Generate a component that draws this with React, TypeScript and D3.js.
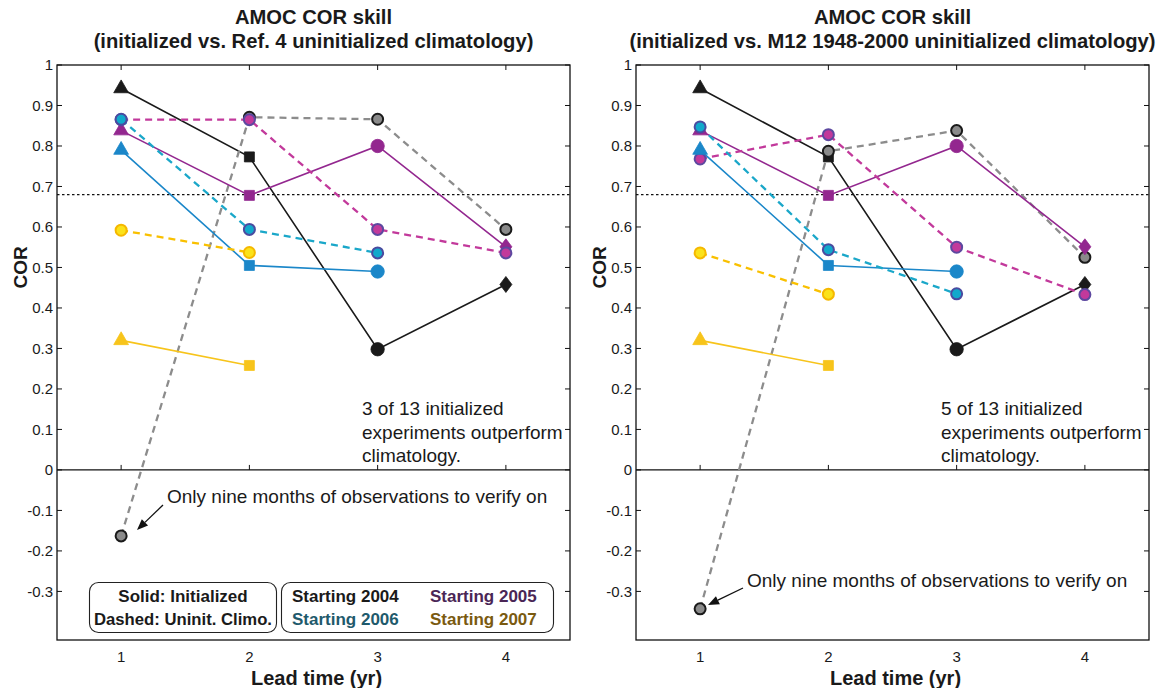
import React from 'react';
import * as d3 from 'd3';

// ---------- data ----------
const leads = [1, 2, 3, 4];
const startYears = ['2004', '2005', '2006', '2007'];
// initialized COR by start year (rows) and lead time (cols)
const initialized: (number | null)[][] = [
  [0.942, 0.773, 0.298, 0.458],
  [0.838, 0.678, 0.8, 0.551],
  [0.79, 0.505, 0.49, null],
  [0.32, 0.258, null, null],
];
// uninitialized climatology, Ref. 4
const uninitRef4: (number | null)[][] = [
  [-0.163, 0.871, 0.866, 0.594],
  [0.865, 0.865, 0.594, 0.536],
  [0.866, 0.594, 0.536, null],
  [0.592, 0.537, null, null],
];
// uninitialized climatology, M12 1948-2000
const uninitM12: (number | null)[][] = [
  [-0.343, 0.787, 0.838, 0.525],
  [0.768, 0.828, 0.55, 0.433],
  [0.847, 0.544, 0.435, null],
  [0.536, 0.434, null, null],
];
const yTickValues = [-0.3, -0.2, -0.1, 0, 0.1, 0.2, 0.3, 0.4, 0.5, 0.6, 0.7, 0.8, 0.9, 1];
const yTickLabels = ['-0.3', '-0.2', '-0.1', '0', '0.1', '0.2', '0.3', '0.4', '0.5', '0.6', '0.7', '0.8', '0.9', '1'];
const thresholdCOR = 0.68;

const panelTitles = [
  ['AMOC COR skill', '(initialized vs. Ref. 4 uninitialized climatology)'],
  ['AMOC COR skill', '(initialized vs. M12 1948-2000 uninitialized climatology)'],
];
const panelNotes = [
  ['3 of 13 initialized', 'experiments outperform', 'climatology.'],
  ['5 of 13 initialized', 'experiments outperform', 'climatology.'],
];
const arrowNote = 'Only nine months of observations to verify on';

// ---------- style ----------
const FONT = "'Liberation Sans', Arial, Helvetica, sans-serif";
const initColor = ['#1a1a1a', '#93278f', '#1b87c9', '#f7c41b'];
const uninitLine = ['#8c8c8c', '#c2399b', '#1aa7c9', '#f9c000'];
const uninitFill = ['#8a8a8a', '#c2399b', '#11a9cc', '#fbe21a'];
const uninitEdge = ['#1a1a1a', '#5d48a0', '#4a4ba0', '#f5b800'];
const legendTextColor = ['#1a1a1a', '#4a2656', '#1f5a6c', '#7a5a10'];

const TOP = 65;
const BOTTOM = 640;
const panels = [
  { x0: 57, x1: 570, uninit: uninitRef4 },
  { x0: 636, x1: 1149, uninit: uninitM12 },
];

function markerPath(leadIdx: number): string {
  if (leadIdx === 0) return d3.symbol().type(d3.symbolTriangle).size(95)()!;
  if (leadIdx === 1) return d3.symbol().type(d3.symbolSquare).size(100)()!;
  if (leadIdx === 2) return d3.symbol().type(d3.symbolCircle).size(140)()!;
  return 'M0,-8L6,0L0,8L-6,0Z';
}

function Panel({ idx }: { idx: number }) {
  const p = panels[idx];
  const x = d3.scaleLinear().domain([0.5, 4.5]).range([p.x0, p.x1]);
  const y = d3.scaleLinear().domain([-0.42, 1]).range([BOTTOM, TOP]);
  const line = d3
    .line<[number, number | null]>()
    .defined((d) => d[1] !== null)
    .x((d) => x(d[0]))
    .y((d) => y(d[1] as number));
  const cx = (p.x0 + p.x1) / 2;
  const zeroY = y(0);

  const arrow =
    idx === 0
      ? { tx: 167, ty: 503, x1: 163, y1: 505, x2: 137, y2: 530 }
      : { tx: 747, ty: 587, x1: 743, y1: 588, x2: 708, y2: 605 };
  const ang = Math.atan2(arrow.y2 - arrow.y1, arrow.x2 - arrow.x1);
  const ah = 11,
    aw = 4.5;
  const bx = arrow.x2 - ah * Math.cos(ang),
    by = arrow.y2 - ah * Math.sin(ang);
  const head = `M${arrow.x2},${arrow.y2}L${bx - aw * Math.sin(ang)},${by + aw * Math.cos(ang)}L${
    bx + aw * Math.sin(ang)
  },${by - aw * Math.cos(ang)}Z`;

  return (
    <g>
      {/* titles */}
      <text x={cx} y={24} textAnchor="middle" fontFamily={FONT} fontWeight="bold" fontSize={20.2} fill="#1a1a1a">
        {panelTitles[idx][0]}
      </text>
      <text x={cx} y={48} textAnchor="middle" fontFamily={FONT} fontWeight="bold" fontSize={20.2} fill="#1a1a1a">
        {panelTitles[idx][1]}
      </text>
      {/* threshold */}
      <line x1={p.x0} x2={p.x1} y1={y(thresholdCOR)} y2={y(thresholdCOR)} stroke="#111" strokeWidth={1.3} strokeDasharray="2.5,2.5" />
      {/* zero line */}
      <line x1={p.x0} x2={p.x1} y1={zeroY} y2={zeroY} stroke="#111" strokeWidth={1.3} />
      {/* frame */}
      <rect x={p.x0} y={TOP} width={p.x1 - p.x0} height={BOTTOM - TOP} fill="none" stroke="#111" strokeWidth={1.3} />
      {/* y ticks */}
      {yTickValues.map((v, i) => (
        <g key={'yt' + i}>
          <line x1={p.x0} x2={p.x0 + 5} y1={y(v)} y2={y(v)} stroke="#111" strokeWidth={1} />
          <line x1={p.x1} x2={p.x1 - 5} y1={y(v)} y2={y(v)} stroke="#111" strokeWidth={1} />
          <text x={p.x0 - 4} y={y(v)} dy="0.36em" textAnchor="end" fontFamily={FONT} fontSize={15} fill="#1a1a1a">
            {yTickLabels[i]}
          </text>
        </g>
      ))}
      {/* x ticks */}
      {leads.map((l) => (
        <g key={'xt' + l}>
          <line x1={x(l)} x2={x(l)} y1={TOP} y2={TOP + 5} stroke="#111" strokeWidth={1} />
          <line x1={x(l)} x2={x(l)} y1={zeroY} y2={zeroY - 5} stroke="#111" strokeWidth={1} />
          <text x={x(l)} y={662} textAnchor="middle" fontFamily={FONT} fontSize={15} fill="#1a1a1a">
            {l}
          </text>
        </g>
      ))}
      {/* axis labels */}
      <text
        transform={`translate(${p.x0 - 30},${(TOP + zeroY) / 2}) rotate(-90)`}
        textAnchor="middle"
        fontFamily={FONT}
        fontWeight="bold"
        fontSize={19}
        fill="#1a1a1a"
      >
        COR
      </text>
      <text x={cx + 3} y={685} textAnchor="middle" fontFamily={FONT} fontWeight="bold" fontSize={20} fill="#1a1a1a">
        Lead time (yr)
      </text>
      {/* lines */}
      {startYears.map((yr, s) => (
        <g key={'ln' + yr}>
          <path
            d={line(leads.map((l, k) => [l, initialized[s][k]] as [number, number | null])) || ''}
            fill="none"
            stroke={initColor[s]}
            strokeWidth={1.6}
          />
          <path
            d={line(leads.map((l, k) => [l, p.uninit[s][k]] as [number, number | null])) || ''}
            fill="none"
            stroke={uninitLine[s]}
            strokeWidth={2.3}
            strokeDasharray="7,5"
          />
        </g>
      ))}
      {/* markers */}
      {startYears.map((yr, s) => (
        <g key={'mk' + yr}>
          {leads.map((l, k) =>
            initialized[s][k] === null ? null : (
              <path
                key={'i' + k}
                d={markerPath(k)}
                transform={`translate(${x(l)},${y(initialized[s][k] as number)})`}
                fill={initColor[s]}
                stroke={initColor[s]}
                strokeWidth={0.8}
              />
            )
          )}
          {leads.map((l, k) =>
            p.uninit[s][k] === null ? null : (
              <circle
                key={'u' + k}
                cx={x(l)}
                cy={y(p.uninit[s][k] as number)}
                r={5.5}
                fill={uninitFill[s]}
                stroke={uninitEdge[s]}
                strokeWidth={2}
              />
            )
          )}
        </g>
      ))}
      {/* note */}
      {panelNotes[idx].map((t, i) => (
        <text key={'n' + i} x={idx === 0 ? 362 : 941} y={415 + i * 23.5} fontFamily={FONT} fontSize={19} fill="#1a1a1a">
          {t}
        </text>
      ))}
      {/* arrow annotation */}
      <text x={arrow.tx} y={arrow.ty} fontFamily={FONT} fontSize={19} fill="#1a1a1a">
        {arrowNote}
      </text>
      <line x1={arrow.x1} y1={arrow.y1} x2={bx} y2={by} stroke="#111" strokeWidth={1.3} />
      <path d={head} fill="#111" />
    </g>
  );
}

function Legend() {
  const ly = 601.5;
  const ly2 = 625;
  return (
    <g fontFamily={FONT} fontWeight="bold" fontSize={17}>
      <rect x={89.5} y={582.5} width={187} height={50} rx={9} fill="#fff" stroke="#222" strokeWidth={1.1} />
      <rect x={281.5} y={582.5} width={272} height={50} rx={9} fill="#fff" stroke="#222" strokeWidth={1.1} />
      <text x={183} y={ly} textAnchor="middle" fill="#1a1a1a">
        Solid: Initialized
      </text>
      <text x={183} y={ly2} textAnchor="middle" fill="#1a1a1a" textLength={178} lengthAdjust="spacingAndGlyphs">
        Dashed: Uninit. Climo.
      </text>
      {startYears.map((yr, s) => (
        <text key={yr} x={s % 2 === 0 ? 292 : 430} y={s < 2 ? ly : ly2} fill={legendTextColor[s]}>
          {'Starting ' + yr}
        </text>
      ))}
    </g>
  );
}

export default function App() {
  return (
    <svg
      width={1168}
      height={688}
      viewBox="0 0 1168 688"
      style={{ position: 'absolute', left: 0, top: 0, background: '#fff' }}
    >
      <rect x={0} y={0} width={1168} height={688} fill="#fff" />
      <Panel idx={0} />
      <Panel idx={1} />
      <Legend />
    </svg>
  );
}
